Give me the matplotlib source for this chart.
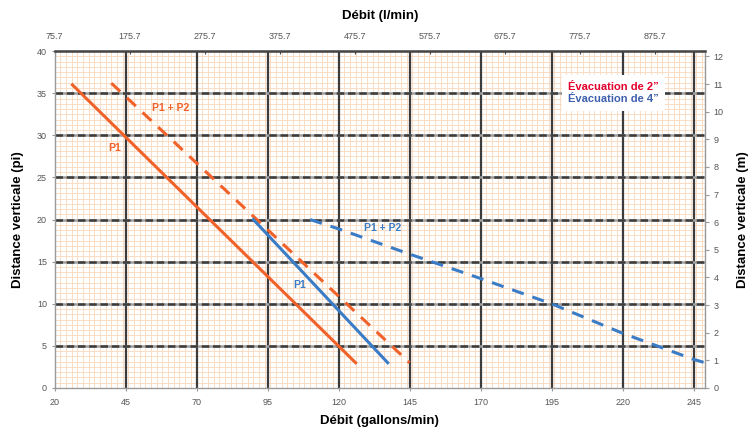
import numpy as np
import matplotlib
matplotlib.use('Agg')
import matplotlib.pyplot as plt
from matplotlib.patches import Rectangle

plt.rcParams['font.family'] = ['Liberation Sans', 'DejaVu Sans']

# ── Données ──
# Évacuation de 2" (orange)
p1_2_x = [26.3, 126.0]
p1_2_y = [36.0, 3.0]
p12_2_x = [40.0, 145.0]
p12_2_y = [36.2, 3.0]
# Évacuation de 4" (bleu)
p1_4_x = [90.0, 137.3]
p1_4_y = [20.0, 3.0]
p12_4_x = [110.0, 120.0, 145.0, 170.0, 195.0, 220.0, 245.0, 250.0]
p12_4_y = [20.0, 18.9, 15.9, 13.0, 10.0, 6.5, 3.4, 2.9]

x_ticks = [20, 45, 70, 95, 120, 145, 170, 195, 220, 245]
y_ticks = [0, 5, 10, 15, 20, 25, 30, 35, 40]
top_ticks = [75.7, 175.7, 275.7, 375.7, 475.7, 575.7, 675.7, 775.7, 875.7]
m_ticks = list(range(0, 13))

GAL_TO_L = 3.785
FT_TO_M = 0.3048

ORANGE = "#f0622a"
BLUE = "#3a7cc6"
RED_TXT = "#e3002c"
BLUE_TXT = "#3e5fae"
GRID_MINOR = "#fadcc4"
TICK_COL = "#555555"

fig = plt.figure(figsize=(7.54, 4.30), dpi=100)
ax = fig.add_axes([0.0723, 0.0977, 0.8627, 0.7833])

XMIN, XMAX = 20, 249
ax.set_xlim(XMIN, XMAX)
ax.set_ylim(0, 40)

# grille mineure orange
for xv in np.arange(XMIN, XMAX, 2):
    ax.axvline(xv, color=GRID_MINOR, lw=0.7, zorder=0)
for yv in np.arange(0, 40, 0.625):
    ax.axhline(yv, color=GRID_MINOR, lw=0.7, zorder=0)

# grille majeure
for xv in x_ticks[1:]:
    ax.axvline(xv, color="#3c3c3c", lw=1.6, zorder=1)
for yv in y_ticks[1:-1]:
    ax.axhline(yv, color="#a0a0a0", lw=1.8, zorder=1)
    ax.axhline(yv, color="#3c3c3c", lw=1.8, ls=(0, (3, 1.5)), zorder=1)

# courbes
ax.plot(p1_2_x, p1_2_y, color=ORANGE, lw=2.2, zorder=3)
ax.plot(p12_2_x, p12_2_y, color=ORANGE, lw=2.2, ls=(0, (4, 3)), zorder=3)
ax.plot(p1_4_x, p1_4_y, color=BLUE, lw=2.2, zorder=3)
ax.plot(p12_4_x, p12_4_y, color=BLUE, lw=2.2, ls=(0, (4, 3)), zorder=3,
        clip_on=False)

lab = dict(fontsize=7.5, fontweight="bold", zorder=4, va="center")
ax.text(54.3, 33.3, "P1 + P2", color=ORANGE, **lab)
ax.text(38.8, 28.5, "P1", color=ORANGE, **lab)
ax.text(129.0, 18.95, "P1 + P2", color=BLUE, **lab)
ax.text(104.0, 12.2, "P1", color=BLUE, **lab)

# encadré légende
ax.add_patch(Rectangle((0.780, 0.822), 0.1585, 0.107, transform=ax.transAxes,
                       fc="white", ec="none", zorder=5))
ax.text(0.859, 0.893, "Évacuation de 2”", transform=ax.transAxes, fontsize=8,
        fontweight="bold", color=RED_TXT, ha="center", va="center", zorder=6)
ax.text(0.859, 0.858, "Évacuation de 4”", transform=ax.transAxes, fontsize=8,
        fontweight="bold", color=BLUE_TXT, ha="center", va="center", zorder=6)

# axes
ax.set_xticks(x_ticks)
ax.set_yticks(y_ticks)
ax.tick_params(axis="both", labelsize=6.5, labelcolor=TICK_COL, color="#999999",
               length=2, width=0.8)
ax.tick_params(axis="x", pad=5)
for s in ["left", "bottom", "right"]:
    ax.spines[s].set_color("#999999")
    ax.spines[s].set_linewidth(1.0)
ax.spines["top"].set_color("#444444")
ax.spines["top"].set_linewidth(1.8)

ax.set_xlabel("Débit (gallons/min)", fontsize=9.5, fontweight="bold", labelpad=6)
ax.set_ylabel("Distance verticale (pi)", fontsize=9.5, fontweight="bold",
              labelpad=9)

top = ax.secondary_xaxis("top", functions=(lambda g: g * GAL_TO_L,
                                           lambda l: l / GAL_TO_L))
top.set_xticks(top_ticks)
top.set_xticklabels([f"{t:.1f}" for t in top_ticks])
top.tick_params(labelsize=6.5, labelcolor=TICK_COL, color="#444444", length=2,
                direction="in", pad=7)
top.set_xlabel("Débit (l/min)", fontsize=9.5, fontweight="bold", labelpad=10)

right = ax.secondary_yaxis("right", functions=(lambda f: f * FT_TO_M,
                                               lambda m: m / FT_TO_M))
right.set_yticks(m_ticks)
right.tick_params(labelsize=6.5, labelcolor=TICK_COL, color="#999999", length=3,
                  pad=3)
right.spines["right"].set_visible(False)
right.set_ylabel("Distance verticale (m)", fontsize=9.5, fontweight="bold",
                 labelpad=10)

fig.savefig("out.png", dpi=100)
